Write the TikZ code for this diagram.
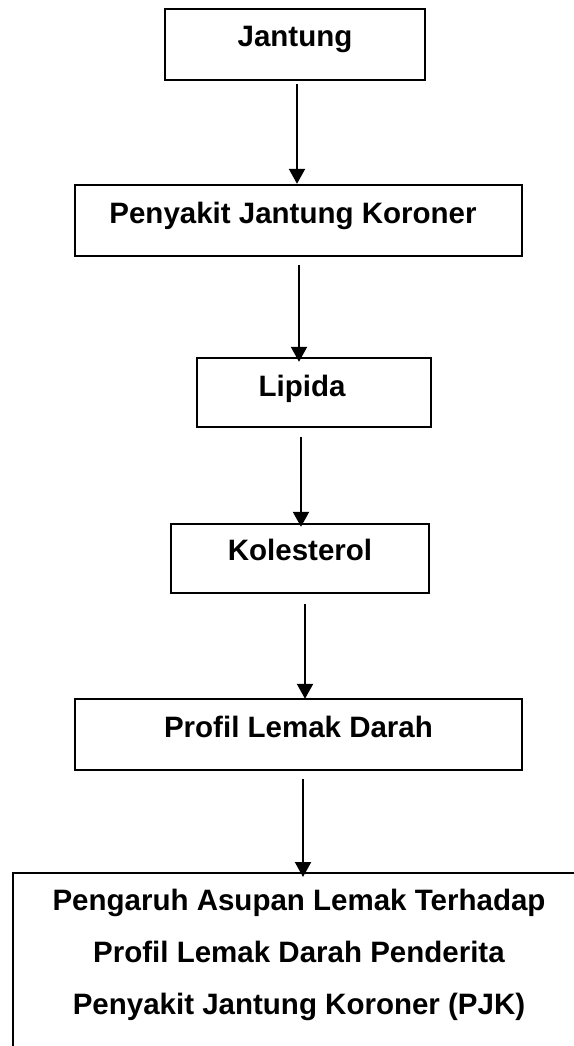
\documentclass[tikz,border=0pt]{standalone}
\usepackage{fontspec}
\setmainfont{Liberation Sans}
\usetikzlibrary{arrows.meta}
\begin{document}
\begin{tikzpicture}[x=1pt,y=-1pt,
  box/.style={draw=black, line width=2.4pt, rectangle, inner xsep=0pt, inner ysep=0pt,
    font=\fontsize{29.5}{52}\selectfont\bfseries, anchor=base},
  arr/.style={line width=2.2pt, -{Triangle[length=15pt,width=16pt]}},
  txt/.style={inner sep=0pt, align=center, font=\fontsize{29.5}{52}\selectfont\bfseries}]
\useasboundingbox (0,0) rectangle (573,1046);
\node[box, minimum width=260pt, text height=38pt, text depth=33pt] (b1) at (295,47) {Jantung};
\node[box, minimum width=447pt, text height=38pt, text depth=33pt] (b2) at (298.5,223) {Penyakit Jantung Koroner\hspace*{11pt}};
\node[box, minimum width=234pt, text height=38pt, text depth=31pt] (b3) at (314,396) {Lipida\hspace*{24pt}};
\node[box, minimum width=258pt, text height=36pt, text depth=33pt] (b4) at (300,560) {Kolesterol};
\node[box, minimum width=447pt, text height=38pt, text depth=33pt] (b5) at (298.5,737) {Profil Lemak Darah};
\node[draw=black, line width=2.4pt, rectangle, inner sep=0pt, minimum width=572pt, minimum height=188pt, anchor=north] (b6) at (299,872) {};
\node[txt, anchor=north] (b6t) at (299,889) {Pengaruh Asupan Lemak Terhadap\\Profil Lemak Darah Penderita\\Penyakit Jantung Koroner (PJK)};
\draw[arr] ([xshift=2pt,yshift=-3pt]b1.south) -- ([xshift=-1.5pt]b2.north);
\draw[arr] ([xshift=0.5pt,yshift=-8pt]b2.south) -- ([xshift=-15pt,yshift=-5pt]b3.north);
\draw[arr] ([xshift=-13pt,yshift=-9pt]b3.south) -- ([xshift=1pt,yshift=-4pt]b4.north);
\draw[arr] ([xshift=5pt,yshift=-10pt]b4.south) -- ([xshift=6.5pt,yshift=-1pt]b5.north);
\draw[arr] ([xshift=4.5pt,yshift=-8pt]b5.south) -- ([xshift=4pt,yshift=-5pt]b6.north);
\end{tikzpicture}
\end{document}
